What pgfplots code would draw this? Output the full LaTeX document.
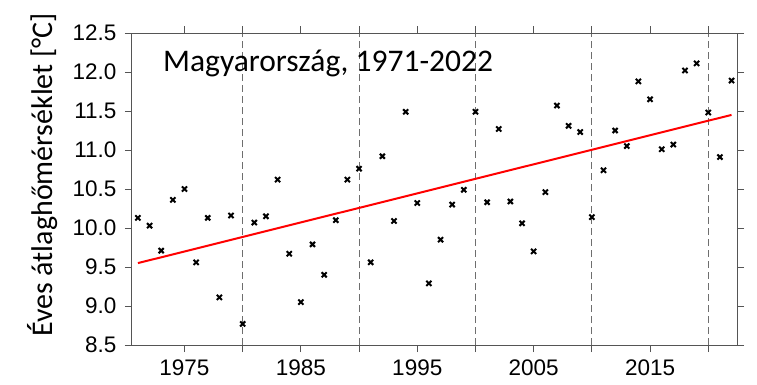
\documentclass[border=0pt]{standalone}
\usepackage{pgfplots}
\pgfplotsset{compat=1.18}
\usepackage{fontspec}
\setmainfont{Liberation Sans}
\newfontfamily\calfont{Carlito}
\definecolor{axgray}{RGB}{85,85,85}
\definecolor{gridgray}{RGB}{110,110,110}
\begin{document}
\begin{tikzpicture}
\useasboundingbox (-132pt,-39pt) rectangle (625pt,345pt);
\begin{axis}[
  scale only axis,
  width=605pt, height=312pt,
  xmin=1970.49, xmax=2022.47,
  ymin=8.5, ymax=12.5,
  xtick={1975,1985,1995,2005,2015},
  extra x ticks={1980,1990,2000,2010,2020},
  extra x tick labels={},
  extra x tick style={grid=major},
  major grid style={gridgray, dash pattern=on 7pt off 4pt, line width=0.9pt},
  ytick={8.5,9.0,...,12.5},
  x tick label style={/pgf/number format/1000 sep={}},
  y tick label style={/pgf/number format/fixed, /pgf/number format/fixed zerofill, /pgf/number format/precision=1},
  /pgf/number format/assume math mode=true,
  tick align=outside,
  xtick pos=both, ytick pos=both,
  major tick length=7pt,
  every tick/.style={axgray, line width=1pt},
  axis line style={axgray, line width=1pt},
  ticklabel style={font=\fontsize{22.5}{26}\selectfont, text=black},
  xticklabel style={yshift=-4pt},
  yticklabel style={xshift=-5pt},
  ylabel={\calfont\fontsize{30}{34}\selectfont Éves átlaghőmérséklet [°C]},
  ylabel style={at={(axis description cs:-0.1306,0.545)}, anchor=base},
  clip=false,
]
\addplot[only marks, black, line width=2pt, mark=x, mark size=3.6pt, mark options={line width=2pt, black}]
coordinates {
(1971,10.13)(1972,10.03)(1973,9.71)(1974,10.36)(1975,10.50)(1976,9.56)
(1977,10.13)(1978,9.11)(1979,10.16)(1980,8.77)(1981,10.07)(1982,10.15)
(1983,10.62)(1984,9.67)(1985,9.05)(1986,9.79)(1987,9.40)(1988,10.10)
(1989,10.62)(1990,10.76)(1991,9.56)(1992,10.92)(1993,10.09)(1994,11.49)
(1995,10.32)(1996,9.29)(1997,9.85)(1998,10.30)(1999,10.49)(2000,11.49)
(2001,10.33)(2002,11.27)(2003,10.34)(2004,10.06)(2005,9.70)(2006,10.46)
(2007,11.57)(2008,11.31)(2009,11.23)(2010,10.14)(2011,10.74)(2012,11.25)
(2013,11.05)(2014,11.88)(2015,11.65)(2016,11.01)(2017,11.07)(2018,12.02)
(2019,12.11)(2020,11.48)(2021,10.91)(2022,11.89)
};
\addplot[red, line width=2pt] coordinates {(1971,9.55)(2022,11.45)};
\node[anchor=base west, inner sep=0pt, font=\calfont\fontsize{31.5}{34}\selectfont] at (axis cs:1973.15,12.01) {Magyarország, 1971-2022};
\draw[axgray, line width=1pt] ([xshift=-7pt]rel axis cs:0,0) -- ([xshift=7pt]rel axis cs:1,0);
\draw[axgray, line width=1pt] ([xshift=-7pt]rel axis cs:0,1) -- ([xshift=7pt]rel axis cs:1,1);
\end{axis}
\end{tikzpicture}
\end{document}
